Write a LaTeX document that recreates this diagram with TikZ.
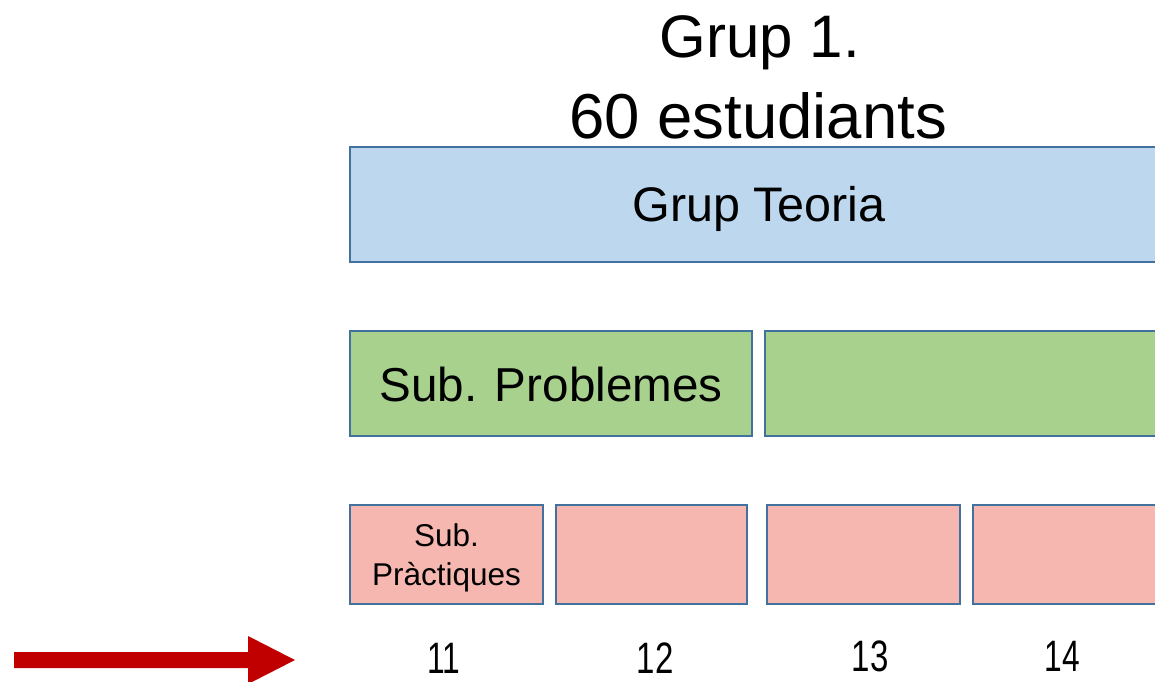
\documentclass[tikz,border=0pt]{standalone}
\usepackage{fontspec}
\setmainfont{Liberation Sans}
\definecolor{edge}{HTML}{41719C}
\definecolor{teo}{HTML}{BDD7EE}
\definecolor{prob}{HTML}{A9D18E}
\definecolor{prac}{HTML}{F5B7AF}
\definecolor{arr}{HTML}{C00000}
\tikzset{
  box/.style={draw=edge, line width=2.6pt, rectangle, anchor=north west, inner sep=0pt, outer sep=0pt},
  teobox/.style={box, fill=teo},
  probbox/.style={box, fill=prob},
  pracbox/.style={box, fill=prac},
  lbl/.style={anchor=base, inner sep=0pt, text=black},
  num/.style={lbl, font=\fontsize{44}{53}\selectfont},
}
\begin{document}
\begin{tikzpicture}[x=1pt, y=-1pt]
\useasboundingbox (0,0) rectangle (1155,681);
\clip (0,0) rectangle (1155,681);
% title
\node[lbl, font=\fontsize{60}{72}\selectfont] (t1) at (760,57) {Grup 1.};
\node[lbl, font=\fontsize{63.5}{76}\selectfont] (t2) at (758,138) {60 estudiants};
% theory group
\node[teobox, minimum width=820pt, minimum height=115pt] (teoria) at (350,147) {};
\node[lbl, font=\fontsize{48.5}{58}\selectfont] (teolbl) at (759,221) {Grup Teoria};
% problem subgroups
\node[probbox, minimum width=402pt, minimum height=105pt] (p1) at (350,331) {};
\node[probbox, minimum width=405pt, minimum height=105pt] (p2) at (765,331) {};
\node[lbl, font=\fontsize{47.6}{57}\selectfont] (p1lbl) at (551,401) {Sub. Problemes};
% practice subgroups
\node[pracbox, minimum width=193pt, minimum height=99pt] (s1) at (350,505) {};
\node[pracbox, minimum width=191pt, minimum height=99pt] (s2) at (556,505) {};
\node[pracbox, minimum width=193pt, minimum height=99pt] (s3) at (767,505) {};
\node[pracbox, minimum width=197pt, minimum height=99pt] (s4) at (973,505) {};
\node[lbl, font=\fontsize{31.5}{38}\selectfont] (s1a) at (446.5,546) {Sub.};
\node[lbl, font=\fontsize{31.5}{38}\selectfont] (s1b) at (446.5,585) {Pràctiques};
% numbers
\node[num] (n11) at (444,673) {\scalebox{0.72}[1]{11}};
\node[num] (n12) at (655,673) {\scalebox{0.75}[1]{12}};
\node[num] (n13) at (870,671) {\scalebox{0.75}[1]{13}};
\node[num] (n14) at (1062,671) {\scalebox{0.72}[1]{14}};
% arrow
\coordinate (a0) at (14,660);
\coordinate (a1) at (295,660);
\fill[arr] (14,652) -- (248,652) -- (248,636) -- (a1) -- (248,684) -- (248,668) -- (14,668) -- cycle;
\end{tikzpicture}
\end{document}
